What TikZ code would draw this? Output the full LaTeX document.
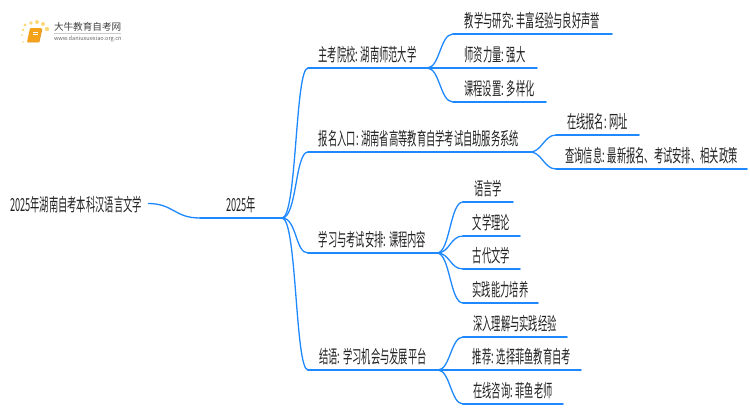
\documentclass[tikz,border=0pt]{standalone}
\usepackage{fontspec}
\setmainfont[FakeStretch=0.515]{Noto Sans CJK SC}
\newfontfamily\logofont{Noto Sans CJK SC}
\definecolor{linkblue}{HTML}{1E88FF}
\definecolor{bookorange}{HTML}{F5A21B}
\definecolor{dotyellow}{HTML}{FBD87A}
\definecolor{textdark}{HTML}{222222}
\begin{document}
\begin{tikzpicture}[x=1pt,y=-1pt,inner sep=0pt,outer sep=0pt,
topic/.style={anchor=south west,minimum height=27pt,font=\fontsize{18}{18}\selectfont,text=textdark},
under/.style={draw=linkblue,line width=1.9pt,line cap=round},
link/.style={draw=linkblue,line width=1.3pt}]
\useasboundingbox (0,0) rectangle (750,410);

% logo
\foreach \dotx/\doty/\dotr in {22/35/1,23/30/1.3,25/25/1.6,31/23/1.9,37/22/2,43/24/2,47/29/2.2,23/42/.8}
  \fill[dotyellow] (\dotx,\doty) circle (\dotr);
\fill[bookorange,rounded corners=1pt] (30,28) -- (42,28) -- (39,42) -- (27,42) -- cycle;
\draw[white,line width=.6pt] (33,32) -- (38,32) (32.5,34.5) -- (37.5,34.5);
\draw[bookorange!70!brown,line width=.8pt] (27,42) -- (39,42) -- (42,29);
\draw (54,27) node[anchor=west] (logoname) {\logofont\fontsize{9.6}{10}\selectfont\color{black!75}大牛教育自考网};
\draw (54,38.5) node[anchor=west] (logourl) {\logofont\fontsize{5.6}{6}\selectfont\color{black!60}www.daniuxuexiao.org.cn};
\draw[black!20,line width=.5pt] (logoname.south west) ++(0,1.5) -- ++(67,0);

% nodes
\draw (10,218) node[topic] (root) {2025年湖南自考本科汉语言文学};
\draw (200,218) node[topic,minimum width=82pt] (year) {2025年};

\draw (308,68) node[topic,minimum width=119pt] (school) {主考院校: 湖南师范大学};
\draw (308,152) node[topic,minimum width=222pt] (entry) {报名入口: 湖南省高等教育自学考试自助服务系统};
\draw (308,253) node[topic,minimum width=129pt] (study) {学习与考试安排: 课程内容};
\draw (308,370) node[topic,minimum width=130pt] (ending) {结语: 学习机会与发展平台};

\draw (453,34) node[topic,minimum width=159pt] (teach) {教学与研究: 丰富经验与良好声誉};
\draw (453,68) node[topic,minimum width=84pt] (staff) {师资力量: 强大};
\draw (453,102) node[topic,minimum width=93pt] (course) {课程设置: 多样化};

\draw (556,135) node[topic,minimum width=83pt] (online) {在线报名: 网址};
\draw (556,169) node[topic,minimum width=191pt] (query) {查询信息: 最新报名、考试安排、相关政策};

\draw (463,202) node[topic,minimum width=50pt] (lang) {语言学};
\draw (463,236) node[topic,minimum width=57pt] (theory) {文学理论};
\draw (463,269) node[topic,minimum width=57pt] (ancient) {古代文学};
\draw (463,303) node[topic,minimum width=75pt] (practice) {实践能力培养};

\draw (463,337) node[topic,minimum width=104pt] (deep) {深入理解与实践经验};
\draw (463,370) node[topic,minimum width=118pt] (recommend) {推荐: 选择菲鱼教育自考};
\draw (463,404) node[topic,minimum width=100pt] (consult) {在线咨询: 菲鱼老师};

% underlines
\foreach \topicname in {year,school,entry,study,ending,teach,staff,course,online,query,lang,theory,ancient,practice,deep,recommend,consult}
  \draw[under] (\topicname.south west) -- (\topicname.south east);

% links
\draw[link] (root.east) ++(6,-1) .. controls +(26,0) and +(-26,0) .. (year.south west);
\foreach \topicname in {school,entry,study,ending}
  \draw[link] (year.south east) .. controls +(15,0) and +(-13,0) .. (\topicname.south west);
\foreach \topicname in {teach,course}
  \draw[link] (school.south east) .. controls +(13,0) and +(-13,0) .. (\topicname.south west);
\draw[link] (school.south east) -- (staff.south west);
\foreach \topicname in {online,query}
  \draw[link] (entry.south east) .. controls +(12,0) and +(-12,0) .. (\topicname.south west);
\foreach \topicname in {lang,theory,ancient,practice}
  \draw[link] (study.south east) .. controls +(13,0) and +(-13,0) .. (\topicname.south west);
\foreach \topicname in {deep,consult}
  \draw[link] (ending.south east) .. controls +(12,0) and +(-12,0) .. (\topicname.south west);
\draw[link] (ending.south east) -- (recommend.south west);
\end{tikzpicture}
\end{document}
